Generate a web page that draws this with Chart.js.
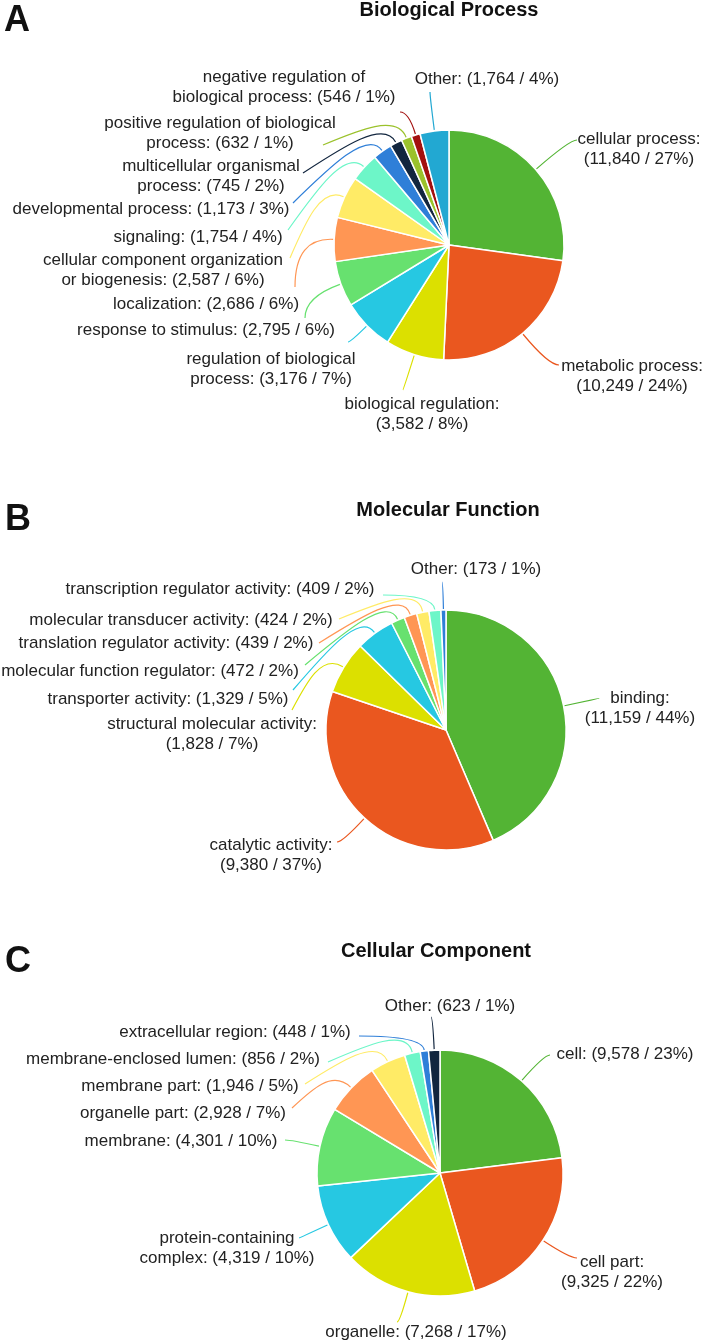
<!DOCTYPE html>
<html><head><meta charset="utf-8">
<script src="https://cdn.jsdelivr.net/npm/chart.js@4"></script>
<style>
html,body{margin:0;padding:0;background:#fff;}
#wrap{position:relative;width:704px;height:1341px;overflow:hidden;background:#fff;}
canvas{position:absolute;left:0;}
</style></head><body>
<div id="wrap">
<canvas id="cA" width="704" height="450" style="top:0px"></canvas>
<canvas id="cB" width="704" height="430" style="top:450px"></canvas>
<canvas id="cC" width="704" height="461" style="top:880px"></canvas>
</div>
<script>
// ---------- data ----------
const palette = ['#53b434','#ea571f','#dce000','#26c8e2','#67e16f','#ff9654','#ffeb66','#6df6c8','#2f7fd8','#12263f','#9bc22c','#a3100f','#22a8d2'];

const bpTitle = 'Biological Process';
const bpCategories = ['cellular process','metabolic process','biological regulation','regulation of biological process','response to stimulus','localization','cellular component organization or biogenesis','signaling','developmental process','multicellular organismal process','positive regulation of biological process','negative regulation of biological process','Other'];
const bpValues = [11840,10249,3582,3176,2795,2686,2587,1754,1173,745,632,546,1764];

const mfTitle = 'Molecular Function';
const mfCategories = ['binding','catalytic activity','structural molecular activity','transporter activity','molecular function regulator','translation regulator activity','molecular transducer activity','transcription regulator activity','Other'];
const mfValues = [11159,9380,1828,1329,472,439,424,409,173];

const ccTitle = 'Cellular Component';
const ccCategories = ['cell','cell part','organelle','protein-containing complex','membrane','organelle part','membrane part','membrane-enclosed lumen','extracellular region','Other'];
const ccValues = [9578,9325,7268,4319,4301,2928,1946,856,448,623];

// ---------- layout (label block centre / leader end, relative to pie centre) ----------
const bpLabelPos = [[190,-106],[183,121],[-27,159],[-178,114],[-243,85],[-243,59],[-286,15],[-251,-8],[-298,-36],[-238,-79],[-229,-122],[-165,-168],[38,-166]];
const bpTickEnd  = [[128,-105],[110,120],[-46,145],[-101,97],[-144,73],[-154,42],[-159,13],[-161,-15],[-156,-42],[-146,-72],[-126,-100],[-49,-133],[-19,-153]];
const bpBreaks   = [2,2,2,3,0,0,3,0,0,2,4,3,0];

const mfLabelPos = [[194,-32],[-175,115],[-234,-6],[-278,-31],[-296,-59],[-280,-87],[-265,-110],[-226,-141],[30,-161]];
const mfTickEnd  = [[153,-32],[-109,112],[-154,-20],[-153,-40],[-141,-65],[-127,-87],[-107,-111],[-63,-135],[-4,-148]];
const mfBreaks   = [1,2,3,0,0,0,0,0,0];

const ccLabelPos = [[185,-119],[172,89],[-24,159],[-213,65],[-259,-32],[-257,-60],[-250,-87],[-267,-114],[-205,-141],[10,-167]];
const ccTickEnd  = [[110,-118],[137,85],[-43,149],[-141,65],[-155,-33],[-148,-65],[-135,-89],[-112,-111],[-81,-137],[-9,-156]];
const ccBreaks   = [0,2,0,1,0,0,0,0,0,0];

const FONT = '"Liberation Sans", Arial, Helvetica, sans-serif';

const calloutPlugin = {
  id: 'callout',
  afterDraw(chart, args, opts) {
    const ctx = chart.ctx;
    const meta = chart.getDatasetMeta(0);
    const ds = chart.data.datasets[0];
    const labels = chart.data.labels;
    const total = ds.data.reduce((a, b) => a + b, 0);
    ctx.save();
    meta.data.forEach((arc, i) => {
      const p = arc.getProps(['x','y','startAngle','endAngle','outerRadius'], true);
      const a = (p.startAngle + p.endAngle) / 2;
      const dx = Math.cos(a), dy = Math.sin(a);
      const x0 = p.x + dx * (p.outerRadius + 1), y0 = p.y + dy * (p.outerRadius + 1);
      const ex = p.x + opts.ends[i][0], ey = p.y + opts.ends[i][1];
      let t = Infinity;
      if (Math.abs(dy) > 1e-6) { const th = (ey - y0) / dy; if (th > 0) t = Math.min(t, th); }
      if (Math.abs(dx) > 1e-6) { const tv = (ex - x0) / dx; if (tv > 0) t = Math.min(t, tv); }
      ctx.beginPath();
      ctx.moveTo(x0, y0);
      if (t <= 50) {
        ctx.quadraticCurveTo(x0 + dx * t, y0 + dy * t, ex, ey);
      } else {
        const c1x = x0 + dx * 25, c1y = y0 + dy * 25;
        ctx.bezierCurveTo(c1x, c1y, ex + (c1x - ex) * 0.5, ey + (c1y - ey) * 0.5, ex, ey);
      }
      ctx.strokeStyle = ds.backgroundColor[i];
      ctx.lineWidth = 1.2;
      ctx.stroke();

      const pct = Math.round(ds.data[i] / total * 100);
      const full = labels[i] + ': (' + ds.data[i].toLocaleString('en-US') + ' / ' + pct + '%)';
      const words = full.split(' ');
      const b = opts.breaks[i];
      const lines = b ? [words.slice(0, b).join(' '), words.slice(b).join(' ')] : [full];
      ctx.font = '17px ' + FONT;
      ctx.fillStyle = '#222';
      ctx.textAlign = 'center';
      ctx.textBaseline = 'middle';
      lines.forEach((ln, k) => ctx.fillText(ln, p.x + opts.pos[i][0], p.y + opts.pos[i][1] + k * 20));
    });
    ctx.fillStyle = '#111';
    ctx.textBaseline = 'alphabetic';
    ctx.textAlign = 'center';
    ctx.font = 'bold 20px ' + FONT;
    ctx.fillText(opts.title, opts.titleXY[0], opts.titleXY[1]);
    ctx.textAlign = 'left';
    ctx.font = 'bold 36px ' + FONT;
    ctx.fillText(opts.letter, opts.letterXY[0], opts.letterXY[1]);
    ctx.restore();
  }
};

function makePie(id, cats, vals, title, letter, cx, cy, r, pos, ends, breaks, titleXY, letterXY) {
  const cv = document.getElementById(id);
  const W = cv.width, H = cv.height, s = 20;
  new Chart(cv, {
    type: 'pie',
    data: {
      labels: cats,
      datasets: [{
        data: vals,
        backgroundColor: palette.slice(0, vals.length),
        borderColor: '#ffffff',
        borderWidth: 1.5
      }]
    },
    options: {
      responsive: false,
      devicePixelRatio: 1,
      animation: false,
      events: [],
      radius: r,
      layout: { padding: { left: cx - s, right: W - cx - s, top: cy - s, bottom: H - cy - s } },
      plugins: {
        legend: { display: false },
        tooltip: { enabled: false },
        title: { display: false },
        callout: { pos, ends, breaks, title, letter, titleXY, letterXY }
      }
    },
    plugins: [calloutPlugin]
  });
}

makePie('cA', bpCategories, bpValues, bpTitle, 'A', 449, 245, 115, bpLabelPos, bpTickEnd, bpBreaks, [449, 16], [4, 31]);
makePie('cB', mfCategories, mfValues, mfTitle, 'B', 446, 280, 120, mfLabelPos, mfTickEnd, mfBreaks, [448, 66], [5, 80]);
makePie('cC', ccCategories, ccValues, ccTitle, 'C', 440, 293, 123, ccLabelPos, ccTickEnd, ccBreaks, [436, 77], [5, 92]);
</script>
</body></html>
